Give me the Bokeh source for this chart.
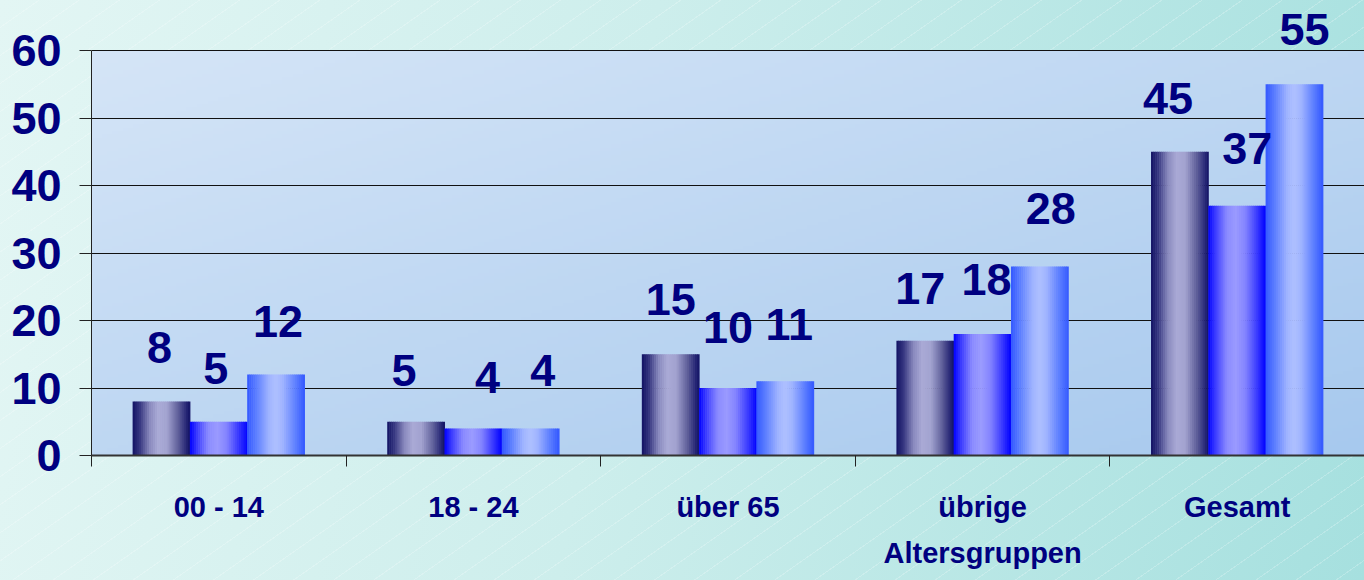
import numpy as np
from bokeh.plotting import figure
from bokeh.models import ColumnDataSource, LabelSet, Range1d, FixedTicker
from bokeh.transform import dodge
from bokeh.core.properties import value
from bokeh.embed import file_html
from bokeh.resources import INLINE

# ---------------- data ----------------
categories = ["00 - 14", "18 - 24", "über 65", "übrige\nAltersgruppen", "Gesamt"]
series_1 = [8, 5, 15, 17, 45]
series_2 = [5, 4, 10, 18, 37]
series_3 = [12, 4, 11, 28, 55]
y_ticks = [0, 10, 20, 30, 40, 50, 60]

# ---------------- styling ----------------
NAVY = "#000080"
FONT = "Liberation Sans"
BAR_W = 0.225
N_STRIPS = 28
LABEL_GAP = 38  # px between bar top and label baseline
FRAME_H = 455   # px, frame reaches the top of the canvas so top labels are not clipped
AXIS_H = 405    # px used by the 0..60 value axis
# small per-label nudges (px) to mimic the original manual label placement
nudge_dx = [[-2, -12, 0, -5, -12], [-3, 14, 0, 4, 10], [2, 12, 4, 11, 10]]
nudge_dy = [[1, -2, 1, -1, 0], [0, -2, 7, 1, 4], [0, 5, 3, 5, 1]]

# gradient colour stops per series (position, hex)
stops = [
    [(0.0, "#121264"), (0.12, "#35357f"), (0.3, "#8a8abe"), (0.45, "#aaaad6"),
     (0.6, "#a2a2cf"), (0.8, "#5e5e99"), (0.93, "#2a2a78"), (1.0, "#121264")],
    [(0.0, "#0000ff"), (0.12, "#3a3aff"), (0.32, "#8a8aff"), (0.48, "#9a9aff"),
     (0.64, "#8484ff"), (0.84, "#3c3cff"), (1.0, "#0000ff")],
    [(0.0, "#3358ff"), (0.15, "#5a7cff"), (0.38, "#a0b4ff"), (0.5, "#aec0ff"),
     (0.62, "#a0b4ff"), (0.85, "#5a7cff"), (1.0, "#3358ff")],
]


def hex2rgb(h):
    h = h.lstrip("#")
    return np.array([int(h[i:i + 2], 16) for i in (0, 2, 4)], dtype=float)


def interp_color(st, t):
    for (p0, c0), (p1, c1) in zip(st[:-1], st[1:]):
        if p0 <= t <= p1:
            f = (t - p0) / (p1 - p0) if p1 > p0 else 0
            c = hex2rgb(c0) * (1 - f) + hex2rgb(c1) * f
            return "#%02x%02x%02x" % tuple(int(round(v)) for v in c)
    return st[-1][1]


page_bg = ("repeating-linear-gradient(145deg, rgba(255,255,255,0) 0px, rgba(255,255,255,0) 22px, "
           "rgba(255,255,255,0.22) 22px, rgba(255,255,255,0.22) 23px), "
           "linear-gradient(100deg, #e3f6f4 0%, #cdeeec 45%, #a6e0df 100%)")

y_max = y_ticks[-1]
p = figure(width=1364, height=580,
           x_range=Range1d(-0.5, len(categories) - 0.5),
           y_range=Range1d(0, y_max * FRAME_H / AXIS_H),
           output_backend="svg", toolbar_location=None,
           min_border_left=91, min_border_right=0, min_border_top=0, min_border_bottom=125,
           background_fill_color=None, border_fill_color=None, outline_line_color=None)
p.styles = {"background": page_bg}

# plot-area gradient (image underlay), covering 0..60 only
H, W = 120, 240
rr, cc = np.mgrid[0:H, 0:W]
t = 0.5 * (cc / (W - 1)) + 0.5 * (1 - rr / (H - 1))
c0 = hex2rgb("#d5e5f7")
c1 = hex2rgb("#a7c9ee")
img = np.empty((H, W), dtype=np.uint32)
view = img.view(dtype=np.uint8).reshape((H, W, 4))
for k in range(3):
    view[:, :, k] = np.clip(c0[k] * (1 - t) + c1[k] * t, 0, 255).astype(np.uint8)
view[:, :, 3] = 255
p.image_rgba(image=[img], x=-0.5, y=0, dw=len(categories), dh=y_max, level="image")

# bars, built of thin vertical strips to mimic the cylinder gradient
all_series = [series_1, series_2, series_3]
idx = list(range(len(categories)))
strip_w = BAR_W / N_STRIPS
for s, vals in enumerate(all_series):
    src = ColumnDataSource(dict(idx=idx, val=vals))
    base = (s - 1) * BAR_W - BAR_W / 2
    for k in range(N_STRIPS):
        tk = (k + 0.5) / N_STRIPS
        p.vbar(x=dodge("idx", base + (k + 0.5) * strip_w, range=p.x_range), top="val", bottom=0,
               width=strip_w * 1.25, fill_color=interp_color(stops[s], tk), line_color=None,
               source=src)

# value labels
for s, vals in enumerate(all_series):
    lsrc = ColumnDataSource(dict(idx=idx, val=vals, txt=[str(v) for v in vals],
                                 dx=nudge_dx[s], dy=[LABEL_GAP + d for d in nudge_dy[s]]))
    p.add_layout(LabelSet(x=dodge("idx", (s - 1) * BAR_W, range=p.x_range), y="val", text="txt",
                          x_offset="dx", y_offset="dy", source=lsrc,
                          text_align="center", text_baseline="alphabetic",
                          text_font=value(FONT), text_font_style="bold", text_font_size="45px",
                          text_color=NAVY))

# grid
p.xgrid.visible = False
p.ygrid.ticker = FixedTicker(ticks=y_ticks)
p.ygrid.grid_line_color = "#111111"
p.ygrid.grid_line_width = 1

# y axis
ya = p.yaxis[0]
ya.ticker = FixedTicker(ticks=y_ticks)
ya.bounds = (0, y_max)
ya.major_label_text_font = FONT
ya.major_label_text_font_style = "bold"
ya.major_label_text_font_size = "45px"
ya.major_label_text_color = NAVY
ya.major_tick_out = 12
ya.major_tick_in = 0
ya.minor_tick_line_color = None
ya.major_tick_line_color = "#222222"
ya.axis_line_color = "#222222"
ya.major_label_standoff = 18

# x axis: labels at category centres, ticks at the boundaries
xa = p.xaxis[0]
xa.ticker = FixedTicker(ticks=idx, minor_ticks=[i - 0.5 for i in idx])
xa.major_label_overrides = {i: c for i, c in enumerate(categories)}
xa.major_tick_line_color = None
xa.major_tick_out = 11
xa.major_tick_in = 0
xa.minor_tick_out = 11
xa.minor_tick_in = 0
xa.minor_tick_line_color = "#222222"
xa.axis_line_color = "#333333"
xa.axis_line_width = 2
xa.major_label_text_font = FONT
xa.major_label_text_font_style = "bold"
xa.major_label_text_font_size = "29px"
xa.major_label_text_color = NAVY
xa.major_label_text_line_height = 1.45
xa.major_label_standoff = 24

open("out.html", "w").write(file_html(p, INLINE))
